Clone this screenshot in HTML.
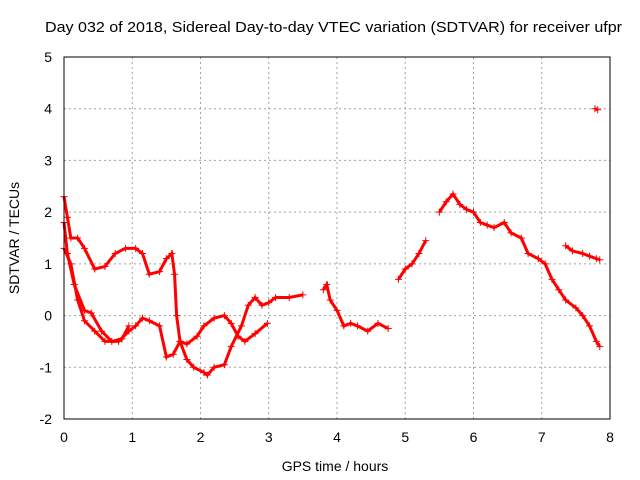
<!DOCTYPE html>
<html><head><meta charset="utf-8"><style>
body{margin:0;background:#fff;}
svg{display:block;font-family:"Liberation Sans",sans-serif;}
</style></head><body>
<svg id="chart" width="640" height="480">
<text x="45" y="32" font-size="15" textLength="577" lengthAdjust="spacingAndGlyphs">Day 032 of 2018, Sidereal Day-to-day VTEC variation (SDTVAR) for receiver ufpr</text>
<text x="335" y="471" text-anchor="middle" font-size="14">GPS time / hours</text>
<text transform="translate(19,238) rotate(-90)" text-anchor="middle" font-size="14">SDTVAR / TECUs</text>
<g id="grid"></g><g id="ticks"></g><g id="marks"></g>
<rect x="64" y="57" width="546" height="362" fill="none" stroke="#000" stroke-width="1"/>
</svg>
<script>
const xTicks=[0,1,2,3,4,5,6,7,8];
const yTicks=[-2,-1,0,1,2,3,4,5];
const trace1=[[0,2.3],[0.05,1.9],[0.1,1.5],[0.2,1.5],[0.3,1.3],[0.45,0.9],[0.6,0.95],[0.75,1.2],[0.9,1.3],[1.05,1.3],[1.15,1.2],[1.25,0.8],[1.4,0.85],[1.5,1.1],[1.58,1.2],[1.62,0.8],[1.65,0],[1.7,-0.5],[1.8,-0.55],[1.95,-0.4],[2.05,-0.2],[2.2,-0.05],[2.35,0],[2.45,-0.15],[2.55,-0.4],[2.65,-0.5],[2.8,-0.35],[2.98,-0.15]];
const trace2=[[0,1.3],[0.1,1.0],[0.2,0.3],[0.3,-0.1],[0.45,-0.3],[0.6,-0.5],[0.8,-0.5],[0.95,-0.3],[1.05,-0.2],[1.15,-0.05],[1.25,-0.1],[1.4,-0.2],[1.5,-0.8],[1.6,-0.75],[1.7,-0.5],[1.8,-0.85],[1.9,-1.0],[2.05,-1.1],[2.1,-1.15],[2.2,-1.0],[2.35,-0.95],[2.45,-0.6],[2.6,-0.2],[2.7,0.2],[2.8,0.35],[2.9,0.2],[3.0,0.25],[3.1,0.35],[3.3,0.35],[3.5,0.4]];
const trace3=[[0,1.8],[0.05,1.2],[0.15,0.6],[0.3,0.1],[0.4,0.05],[0.55,-0.3],[0.7,-0.5],[0.85,-0.45],[0.95,-0.2]];
const trace4=[[3.8,0.5],[3.85,0.6],[3.9,0.3],[4.0,0.1],[4.1,-0.2],[4.2,-0.15],[4.3,-0.2],[4.45,-0.3],[4.6,-0.15],[4.75,-0.25]];
const trace5=[[4.9,0.7],[5.0,0.9],[5.1,1.0],[5.2,1.2],[5.3,1.45]];
const trace6=[[5.5,2.0],[5.6,2.2],[5.7,2.35],[5.8,2.15],[5.9,2.05],[6.0,2.0],[6.1,1.8],[6.2,1.75],[6.3,1.7],[6.45,1.8],[6.55,1.6],[6.7,1.5],[6.8,1.2],[6.95,1.1],[7.05,1.0],[7.15,0.7],[7.25,0.5],[7.35,0.3],[7.5,0.15],[7.6,0],[7.7,-0.2],[7.8,-0.5],[7.85,-0.6]];
const trace7=[[7.35,1.35],[7.45,1.25],[7.6,1.2],[7.7,1.15],[7.8,1.1],[7.85,1.08]];
const trace8=[[7.78,4.0],[7.82,3.98]];
const series=[trace1,trace2,trace3,trace4,trace5,trace6,trace7,trace8];
const NS='http://www.w3.org/2000/svg';
const X=v=>64+v*(546/8), Y=v=>419-(v+2)*(362/7);
function mk(t,a,p){const e=document.createElementNS(NS,t);for(const k in a)e.setAttribute(k,a[k]);p.appendChild(e);return e;}
const g=document.getElementById('grid'),tk=document.getElementById('ticks'),m=document.getElementById('marks');
xTicks.forEach(v=>{
 const l=mk('line',{x1:X(v),x2:X(v),y1:57,y2:419,stroke:'#a0a0a0','stroke-dasharray':'2,3'},g);
 
 
 const t=mk('text',{x:X(v),y:442,'text-anchor':'middle','font-size':'14'},tk);t.textContent=v;
 
 
});
yTicks.forEach(v=>{
 const l=mk('line',{x1:64,x2:610,y1:Y(v),y2:Y(v),stroke:'#a0a0a0','stroke-dasharray':'2,3'},g);
 
 
 const t=mk('text',{x:52,y:Y(v)+5,'text-anchor':'end','font-size':'14'},tk);t.textContent=v;
 
 
});
series.forEach((s,i)=>{
 const pl=mk('polyline',{points:s.map(p=>X(p[0])+','+Y(p[1])).join(' '),fill:'none',stroke:'#f00','stroke-width':'3'},m);
 
 
 s.forEach(p=>{
  const x=X(p[0]),y=Y(p[1]);
  const c=mk('path',{d:`M${x-3.5},${y}H${x+3.5}M${x},${y-3.5}V${y+3.5}`,stroke:'#f00','stroke-width':'1'},m);
  
  
 });
});
</script>
</body></html>
